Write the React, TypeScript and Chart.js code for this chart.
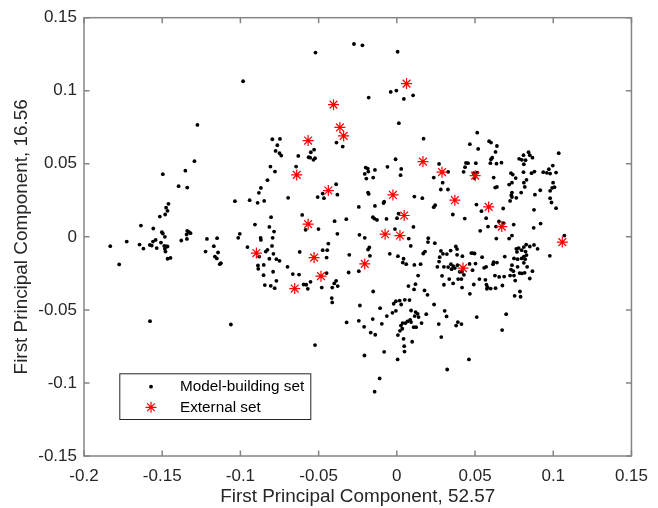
import React, { useEffect, useRef } from 'react';
import { Chart, registerables } from 'chart.js';

Chart.register(...registerables);

// Axis ticks and labels
const xTickValues = [-0.2, -0.15, -0.1, -0.05, 0, 0.05, 0.1, 0.15];
const xTickLabels = ['-0.2', '-0.15', '-0.1', '-0.05', '0', '0.05', '0.1', '0.15'];
const yTickValues = [-0.15, -0.1, -0.05, 0, 0.05, 0.1, 0.15];
const yTickLabels = ['-0.15', '-0.1', '-0.05', '0', '0.05', '0.1', '0.15'];

const xTitle = 'First Principal Component, 52.57';
const yTitle = 'First Principal Component, 16.56';
const seriesNames = ['Model-building set', 'External set'];

// PCA scores of the model-building compounds [PC1, PC2]
const modelBuildingSet: [number, number][] = [
  [-0.1294, 0.0518], [-0.1496, 0.0429], [-0.1352, 0.0453], [-0.1395, 0.0347], [-0.1340, 0.0337],
  [-0.1460, 0.0226], [-0.1475, 0.0200], [-0.1466, 0.0178], [-0.1481, 0.0153], [-0.1515, 0.0139],
  [-0.1636, 0.0077], [-0.1557, 0.0057], [-0.1502, 0.0032], [-0.1496, 0.0023], [-0.1483, 0.0000],
  [-0.1340, 0.0041], [-0.1330, 0.0034], [-0.1319, 0.0025], [-0.1344, 0.0016], [-0.1342, -0.0014],
  [-0.1378, -0.0025], [-0.1832, -0.0064], [-0.1727, -0.0032], [-0.1645, -0.0053], [-0.1620, -0.0080],
  [-0.1579, -0.0055], [-0.1567, -0.0060], [-0.1559, -0.0032], [-0.1542, -0.0021], [-0.1535, -0.0077],
  [-0.1508, -0.0039], [-0.1487, -0.0062], [-0.1475, -0.0066], [-0.1466, -0.0066], [-0.1483, -0.0082],
  [-0.1479, -0.0101], [-0.1466, -0.0150], [-0.1447, -0.0144], [-0.1775, -0.0189], [-0.1214, -0.0014],
  [-0.1149, -0.0009], [-0.1223, -0.0101], [-0.1170, -0.0064], [-0.1143, -0.0107], [-0.1163, -0.0135],
  [-0.1151, -0.0148], [-0.1132, -0.0187], [-0.1125, -0.0180], [-0.1578, -0.0577], [-0.1061, -0.0600],
  [-0.1275, 0.0766], [-0.0983, 0.1065], [-0.0520, 0.1261],
  [-0.0274, 0.1320], [-0.0220, 0.1311], [0.0005, 0.1267], [-0.0180, 0.0953], [-0.0039, 0.0992],
  [-0.0003, 0.1001], [0.0045, 0.0944], [0.0104, 0.0969], [0.0013, 0.0778], [0.0171, 0.0672],
  [0.0514, 0.0713], [0.0467, 0.0634], [0.0520, 0.0602], [0.0590, 0.0655], [0.0602, 0.0645],
  [0.0640, 0.0622], [0.0631, 0.0581], [0.1035, 0.0573], [-0.0386, 0.0645], [-0.0346, 0.0618],
  [-0.0796, 0.0668], [-0.0747, 0.0670], [-0.0764, 0.0627], [-0.0775, 0.0588], [-0.0750, 0.0573],
  [-0.0739, 0.0556], [-0.0630, 0.0554], [-0.0550, 0.0579], [-0.0529, 0.0597], [-0.0564, 0.0545],
  [-0.0554, 0.0542], [-0.0523, 0.0538], [-0.0533, 0.0527], [-0.0808, 0.0481], [-0.0779, 0.0447],
  [-0.0644, 0.0481], [-0.0827, 0.0388], [-0.0869, 0.0335], [-0.0882, 0.0301], [-0.1035, 0.0244],
  [-0.0941, 0.0251], [-0.0890, 0.0233], [-0.0848, 0.0246], [-0.0695, 0.0267], [-0.0506, 0.0272],
  [-0.0466, 0.0265], [-0.0474, 0.0296], [-0.0388, 0.0360], [-0.0380, 0.0289], [-0.0243, 0.0205],
  [-0.0605, 0.0150], [-0.0804, 0.0135], [-0.0907, 0.0084], [-0.0815, 0.0068], [-0.0785, 0.0036],
  [-0.1004, 0.0021], [-0.1014, -0.0007], [-0.0871, -0.0007], [-0.0794, -0.0007], [-0.0583, 0.0048],
  [-0.0501, 0.0053], [-0.0398, 0.0107], [-0.0323, 0.0121], [-0.0380, 0.0021], [-0.0239, 0.0014],
  [-0.0008, 0.0531], [-0.0060, 0.0479], [0.0028, 0.0465], [0.0024, 0.0422], [-0.0199, 0.0474],
  [-0.0186, 0.0467], [-0.0182, 0.0447], [-0.0205, 0.0431], [-0.0195, 0.0399], [-0.0151, 0.0406],
  [-0.0140, 0.0458], [0.0270, 0.0499], [0.0328, 0.0445], [0.0236, 0.0406], [0.0293, 0.0371],
  [0.0281, 0.0324], [0.0327, 0.0324], [0.0442, 0.0506], [0.0455, 0.0504], [0.0505, 0.0504],
  [0.0436, 0.0477], [0.0427, 0.0445], [0.0491, 0.0436], [0.0514, 0.0440], [0.0497, 0.0402],
  [-0.0184, 0.0303], [-0.0180, 0.0294], [-0.0081, 0.0241], [-0.0085, 0.0231], [0.0112, 0.0276],
  [0.0163, 0.0265], [-0.0140, 0.0212], [0.0245, 0.0217], [0.0236, 0.0203], [0.0011, 0.0159],
  [0.0001, 0.0128], [-0.0153, 0.0135], [-0.0144, 0.0125], [-0.0127, 0.0116], [-0.0066, 0.0123],
  [0.0358, 0.0153], [0.0434, 0.0125], [0.0509, 0.0221], [0.0541, 0.0176], [0.0571, 0.0128],
  [0.0106, 0.0068], [-0.0012, 0.0053], [0.0533, 0.0041], [0.0583, 0.0070], [-0.0205, -0.0007],
  [0.0076, -0.0012], [0.0201, -0.0009],
  [0.0610, 0.0542], [0.0602, 0.0531], [0.0598, 0.0504], [0.0637, 0.0501], [0.0669, 0.0508],
  [0.0782, 0.0534], [0.0799, 0.0527], [0.0823, 0.0525], [0.0812, 0.0497], [0.0810, 0.0559],
  [0.0842, 0.0579], [0.0850, 0.0559], [0.0867, 0.0542], [0.0619, 0.0406], [0.0629, 0.0337],
  [0.0640, 0.0342], [0.0730, 0.0436], [0.0741, 0.0426], [0.0760, 0.0402], [0.0736, 0.0371],
  [0.0718, 0.0358], [0.0810, 0.0443], [0.0829, 0.0390], [0.0812, 0.0371], [0.0818, 0.0342],
  [0.0861, 0.0436], [0.0880, 0.0447], [0.0936, 0.0443], [0.0959, 0.0438], [0.0980, 0.0433],
  [0.1018, 0.0440], [0.0972, 0.0463], [0.0997, 0.0488], [0.0999, 0.0371], [0.1008, 0.0340],
  [0.0993, 0.0335], [0.0980, 0.0315], [0.0917, 0.0319], [0.0883, 0.0289], [0.0795, 0.0303],
  [0.0736, 0.0303], [0.0732, 0.0285], [0.0736, 0.0272], [0.0764, 0.0267], [0.0724, 0.0246],
  [0.0980, 0.0265], [0.0989, 0.0235], [0.1018, 0.0196], [0.0680, 0.0194], [0.0877, 0.0185],
  [0.0653, 0.0105], [0.0682, 0.0094], [0.0634, 0.0070], [0.0747, 0.0084], [0.0875, 0.0062],
  [0.0919, 0.0091], [0.0636, -0.0012], [0.0718, -0.0012], [0.0736, 0.0009], [0.1071, 0.0009],
  [-0.0869, -0.0021], [-0.0955, -0.0070], [-0.0838, -0.0101], [-0.0827, -0.0089], [-0.0798, -0.0062],
  [-0.0789, -0.0116], [-0.0815, -0.0150], [-0.0770, -0.0153], [-0.0750, -0.0164], [-0.0880, -0.0135],
  [-0.0888, -0.0196], [-0.0886, -0.0219], [-0.0851, -0.0192], [-0.0791, -0.0239], [-0.0852, -0.0262],
  [-0.0770, -0.0301], [-0.0844, -0.0330], [-0.0806, -0.0335], [-0.0781, -0.0351], [-0.0699, -0.0205],
  [-0.0665, -0.0255], [-0.0625, -0.0258], [-0.0621, -0.0103], [-0.0596, -0.0326], [-0.0579, -0.0328],
  [-0.0569, -0.0356], [-0.0552, -0.0308], [-0.0438, -0.0046], [-0.0474, -0.0091], [-0.0445, -0.0091],
  [-0.0449, -0.0142], [-0.0449, -0.0248], [-0.0480, -0.0347], [-0.0413, -0.0347], [-0.0400, -0.0319],
  [-0.0388, -0.0301], [-0.0378, -0.0337], [-0.0416, -0.0419], [-0.0413, -0.0449], [-0.0304, -0.0123],
  [-0.0308, -0.0244], [-0.0243, -0.0235], [-0.0236, -0.0470], [-0.0321, -0.0586], [-0.0243, -0.0575],
  [-0.0523, -0.0741],
  [0.0199, -0.0036], [0.0243, -0.0043], [-0.0176, -0.0073], [-0.0184, -0.0087], [0.0089, -0.0062],
  [-0.0045, -0.0116], [0.0007, -0.0132], [0.0043, -0.0150], [0.0038, -0.0176], [0.0060, -0.0187],
  [0.0112, -0.0192], [0.0152, -0.0187], [-0.0172, -0.0130], [0.0180, -0.0101], [0.0169, -0.0114],
  [0.0282, -0.0096], [0.0295, -0.0116], [0.0274, -0.0139], [0.0320, -0.0118], [0.0344, -0.0094],
  [0.0377, -0.0066], [0.0385, -0.0084], [0.0385, -0.0123], [0.0419, -0.0132], [0.0476, -0.0111],
  [0.0486, -0.0111], [0.0497, -0.0114], [0.0545, -0.0139], [0.0465, -0.0185], [0.0503, -0.0183],
  [0.0270, -0.0169], [0.0259, -0.0205], [0.0301, -0.0205], [0.0328, -0.0207], [0.0346, -0.0187],
  [0.0360, -0.0200], [0.0371, -0.0214], [0.0350, -0.0221], [0.0388, -0.0194], [0.0402, -0.0239],
  [0.0417, -0.0239], [0.0429, -0.0260], [0.0484, -0.0228], [0.0558, -0.0212], [0.0289, -0.0267],
  [0.0335, -0.0289], [0.0392, -0.0289], [0.0413, -0.0289], [0.0360, -0.0319], [0.0301, -0.0328],
  [0.0417, -0.0347], [0.0492, -0.0326], [0.0528, -0.0289], [0.0566, -0.0294], [0.0579, -0.0344],
  [0.0467, -0.0390], [0.0136, -0.0265], [0.0119, -0.0324], [0.0110, -0.0360], [0.0074, -0.0337],
  [0.0177, -0.0367], [0.0196, -0.0397], [-0.0151, -0.0374], [-0.0107, -0.0488], [0.0051, -0.0431],
  [0.0081, -0.0433], [0.0018, -0.0436], [-0.0006, -0.0440], [-0.0020, -0.0458], [0.0028, -0.0463],
  [-0.0028, -0.0520], [-0.0006, -0.0506], [-0.0064, -0.0542], [-0.0154, -0.0563], [0.0091, -0.0504],
  [0.0120, -0.0515], [0.0133, -0.0527], [0.0139, -0.0549], [0.0114, -0.0542], [0.0188, -0.0529],
  [0.0238, -0.0463], [0.0306, -0.0506], [0.0318, -0.0545], [0.0158, -0.0590], [0.0085, -0.0568],
  [0.0068, -0.0579], [0.0091, -0.0583], [0.0055, -0.0590], [0.0037, -0.0590], [0.0026, -0.0607],
  [0.0035, -0.0629], [0.0020, -0.0643], [0.0007, -0.0672], [0.0123, -0.0618], [0.0108, -0.0618],
  [-0.0209, -0.0616], [-0.0167, -0.0655], [-0.0138, -0.0670], [-0.0096, -0.0595], [0.0268, -0.0597],
  [0.0379, -0.0607], [0.0390, -0.0583], [0.0413, -0.0597], [0.0511, -0.0549], [0.0284, -0.0686],
  [0.0043, -0.0698], [0.0098, -0.0718], [0.0047, -0.0748], [0.0049, -0.0785], [-0.0081, -0.0787],
  [-0.0207, -0.0812], [-0.0142, -0.1060], [-0.0110, -0.0969], [0.0005, -0.0839], [0.0322, -0.0908],
  [0.0461, -0.0839], [0.0673, -0.0638], [0.0699, -0.0529],
  [0.0764, -0.0082], [0.0779, -0.0077], [0.0768, -0.0103], [0.0798, -0.0091], [0.0812, -0.0070],
  [0.0827, -0.0053], [0.0850, -0.0066], [0.0877, -0.0055], [0.0900, -0.0082], [0.0823, -0.0101],
  [0.0829, -0.0125], [0.0812, -0.0135], [0.0820, -0.0153], [0.0798, -0.0148], [0.0772, -0.0153],
  [0.0749, -0.0148], [0.0690, -0.0135], [0.0978, -0.0130], [0.0619, -0.0173], [0.0615, -0.0187],
  [0.0640, -0.0176], [0.0571, -0.0205], [0.0736, -0.0194], [0.0730, -0.0224], [0.0772, -0.0205],
  [0.0812, -0.0178], [0.0833, -0.0205], [0.0745, -0.0235], [0.0724, -0.0265], [0.0749, -0.0265],
  [0.0785, -0.0248], [0.0799, -0.0250], [0.0817, -0.0246], [0.0867, -0.0235], [0.0627, -0.0265],
  [0.0654, -0.0274], [0.0686, -0.0272], [0.0757, -0.0299], [0.0850, -0.0285], [0.0573, -0.0328],
  [0.0600, -0.0354], [0.0576, -0.0356], [0.0631, -0.0351], [0.0675, -0.0333], [0.0787, -0.0374],
  [0.0753, -0.0404], [0.0791, -0.0410],
];

// PCA scores of the external validation compounds [PC1, PC2]
const externalSet: [number, number][] = [
  [0.0062, 0.1049], [-0.0405, 0.0905], [-0.0364, 0.0749], [-0.0340, 0.0691], [-0.0567, 0.0659],
  [0.0167, 0.0515], [-0.0640, 0.0424], [0.0289, 0.0443], [0.0501, 0.0419], [-0.0438, 0.0317],
  [0.0371, 0.0251], [-0.0025, 0.0287], [0.0587, 0.0205], [0.0047, 0.0146], [-0.0567, 0.0087],
  [0.0671, 0.0070], [-0.0075, 0.0018], [0.0020, 0.0009], [0.1058, -0.0036], [-0.0898, -0.0111],
  [-0.0529, -0.0142], [-0.0205, -0.0185], [0.0423, -0.0214], [-0.0485, -0.0269], [-0.0653, -0.0354],
];

const FONT = "'Liberation Sans', Arial, Helvetica, sans-serif";
const TEXT_COLOR = '#262626';
const AXIS_COLOR = '#858585';
const DOT_COLOR = '#000000';
const STAR_COLOR = '#ff0000';
const DOT_RADIUS = 1.9;
const STAR_RADIUS = 5.5;
const STAR_WIDTH = 1.2;

// Box around the axes with inward tick marks on all four sides
const axesBoxPlugin = {
  id: 'axesBox',
  afterDatasetsDraw(chart: any) {
    const { ctx, chartArea: a, scales } = chart;
    const len = 5.5;
    ctx.save();
    ctx.strokeStyle = AXIS_COLOR;
    ctx.lineWidth = 1.5;
    ctx.strokeRect(a.left, a.top, a.right - a.left, a.bottom - a.top);
    ctx.beginPath();
    xTickValues.forEach((v) => {
      const px = scales.x.getPixelForValue(v);
      ctx.moveTo(px, a.bottom);
      ctx.lineTo(px, a.bottom - len);
      ctx.moveTo(px, a.top);
      ctx.lineTo(px, a.top + len);
    });
    yTickValues.forEach((v) => {
      const py = scales.y.getPixelForValue(v);
      ctx.moveTo(a.left, py);
      ctx.lineTo(a.left + len, py);
      ctx.moveTo(a.right, py);
      ctx.lineTo(a.right - len, py);
    });
    ctx.stroke();
    ctx.restore();
  },
};

function drawStar(ctx: CanvasRenderingContext2D, x: number, y: number, r: number) {
  ctx.beginPath();
  for (let k = 0; k < 4; k++) {
    const ang = (k * Math.PI) / 4;
    const dx = Math.cos(ang) * r;
    const dy = Math.sin(ang) * r;
    ctx.moveTo(x - dx, y - dy);
    ctx.lineTo(x + dx, y + dy);
  }
  ctx.stroke();
}

// Legend box in the lower-left corner of the axes
const insetLegendPlugin = {
  id: 'insetLegend',
  afterDraw(chart: any) {
    const { ctx, chartArea: a } = chart;
    const left = a.left + 35.3;
    const top = a.bottom - 82.7;
    const width = 191;
    const height = 45.7;
    ctx.save();
    ctx.fillStyle = '#ffffff';
    ctx.fillRect(left, top, width, height);
    ctx.strokeStyle = TEXT_COLOR;
    ctx.lineWidth = 1;
    ctx.strokeRect(left + 0.5, top + 0.5, width, height);

    const markerX = left + 31.7;
    const textX = left + 60.7;
    const rows = [top + 13.4, top + 34];

    // row 1: dot marker
    ctx.fillStyle = DOT_COLOR;
    ctx.beginPath();
    ctx.arc(markerX, rows[0], DOT_RADIUS, 0, Math.PI * 2);
    ctx.fill();
    // row 2: asterisk marker
    ctx.strokeStyle = STAR_COLOR;
    ctx.lineWidth = STAR_WIDTH;
    drawStar(ctx, markerX, rows[1], STAR_RADIUS);

    ctx.fillStyle = '#000000';
    ctx.font = `15.3px ${FONT}`;
    ctx.textAlign = 'left';
    ctx.textBaseline = 'middle';
    const labels = chart.data.datasets.map((d: any) => d.label);
    labels.forEach((t: string, i: number) => ctx.fillText(t, textX, rows[i]));
    ctx.restore();
  },
};

export default function App() {
  const canvasRef = useRef<HTMLCanvasElement | null>(null);

  useEffect(() => {
    if (!canvasRef.current) return;
    const chart = new Chart(canvasRef.current, {
      type: 'scatter',
      data: {
        datasets: [
          {
            label: seriesNames[0],
            data: modelBuildingSet.map(([x, y]) => ({ x, y })),
            pointStyle: 'circle',
            pointRadius: DOT_RADIUS,
            pointBackgroundColor: DOT_COLOR,
            pointBorderWidth: 0,
            order: 1,
          },
          {
            label: seriesNames[1],
            data: externalSet.map(([x, y]) => ({ x, y })),
            pointStyle: 'star',
            pointRadius: STAR_RADIUS,
            pointBorderColor: STAR_COLOR,
            pointBackgroundColor: STAR_COLOR,
            pointBorderWidth: STAR_WIDTH,
            order: 0,
          },
        ],
      },
      options: {
        responsive: false,
        animation: false,
        devicePixelRatio: 1,
        events: [],
        layout: { padding: { top: 17.7, right: 19.5, left: 0, bottom: 0 } },
        plugins: {
          legend: { display: false },
          tooltip: { enabled: false },
        },
        scales: {
          x: {
            type: 'linear',
            min: -0.2,
            max: 0.15,
            afterBuildTicks: (s: any) => {
              s.ticks = xTickValues.map((value) => ({ value }));
            },
            afterFit: (s: any) => {
              s.height = 52;
            },
            ticks: {
              autoSkip: false,
              maxRotation: 0,
              padding: 10,
              color: TEXT_COLOR,
              font: { family: FONT, size: 17 },
              callback: (_v: any, i: number) => xTickLabels[i],
            },
            grid: { display: false, drawTicks: false },
            border: { display: false },
            title: {
              display: true,
              text: xTitle,
              color: TEXT_COLOR,
              font: { family: FONT, size: 18.9 },
              padding: { top: 0, bottom: 0 },
            },
          },
          y: {
            type: 'linear',
            min: -0.15,
            max: 0.15,
            afterBuildTicks: (s: any) => {
              s.ticks = yTickValues.map((value) => ({ value }));
            },
            afterFit: (s: any) => {
              s.width = 84;
            },
            ticks: {
              autoSkip: false,
              padding: 7,
              color: TEXT_COLOR,
              font: { family: FONT, size: 17 },
              callback: (_v: any, i: number) => yTickLabels[i],
            },
            grid: { display: false, drawTicks: false },
            border: { display: false },
            title: {
              display: true,
              text: yTitle,
              color: TEXT_COLOR,
              font: { family: FONT, size: 18.9 },
              padding: { top: 10, bottom: 0 },
            },
          },
        },
      },
      plugins: [axesBoxPlugin, insetLegendPlugin],
    });
    return () => chart.destroy();
  }, []);

  return (
    <div style={{ position: 'absolute', left: 0, top: 0, width: 658, height: 508, background: '#ffffff' }}>
      <canvas ref={canvasRef} width={658} height={508} style={{ display: 'block' }} />
    </div>
  );
}
